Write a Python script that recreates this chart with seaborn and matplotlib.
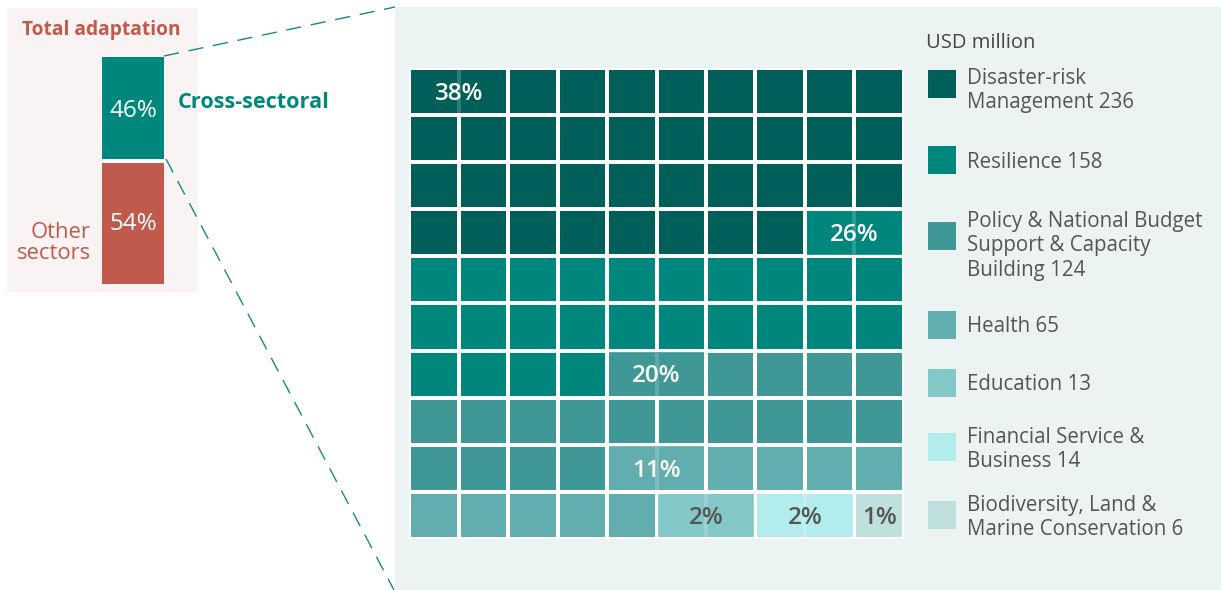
import numpy as np
import matplotlib
matplotlib.use("Agg")
import matplotlib.pyplot as plt
from matplotlib.colors import ListedColormap
from matplotlib.patches import Rectangle
from matplotlib.lines import Line2D
import seaborn as sns

# ---------------- data ----------------
categories = ["Disaster-risk\nManagement", "Resilience",
              "Policy & National Budget\nSupport & Capacity\nBuilding",
              "Health", "Education", "Financial Service &\nBusiness",
              "Biodiversity, Land &\nMarine Conservation"]
values_usd_m = [236, 158, 124, 65, 13, 14, 6]
colors = ["#005f59", "#00877d", "#3f9796", "#62aeaf", "#83c8c7", "#b3ecec", "#bfe0dd"]
label_colors = ["white", "white", "white", "white", "#555555", "#555555", "#555555"]

split_labels = ["Cross-sectoral", "Other\nsectors"]
split_shares = [46, 54]
split_colors = ["#00877d", "#bf5a4c"]

# ---------------- style ----------------
sns.set_theme(style="white")
plt.rcParams["font.family"] = ["Open Sans", "DejaVu Sans"]

W, H = 1221, 590
fig = plt.figure(figsize=(W / 100, H / 100), dpi=100)
fig.patch.set_facecolor("white")

# background / annotation layer in pixel coordinates
bg = fig.add_axes([0, 0, 1, 1], zorder=0)
bg.set_xlim(0, W)
bg.set_ylim(H, 0)
bg.axis("off")

bg.add_patch(Rectangle((7, 8), 191, 284, facecolor="#f9f4f3", edgecolor="none"))
bg.add_patch(Rectangle((395, 7), W - 395, H - 7, facecolor="#ecf4f3", edgecolor="none"))

dash = (0, (11, 7))
bg.add_line(Line2D([164, 395], [56, 7], color="#1a8a80", lw=1.0, linestyle=dash))
bg.add_line(Line2D([166, 394], [159, 590], color="#1a8a80", lw=1.0, linestyle=dash))

red = split_colors[1]
teal = split_colors[0]
bg.text(101, 30, "Total adaptation", color=red, fontsize=13.8, fontweight="bold",
        ha="center", va="center")
bg.text(178, 103, split_labels[0], color=teal, fontsize=15.6, fontweight="bold",
        ha="left", va="center")
bg.text(91, 243, split_labels[1], color=red, fontsize=15.8, ha="right", va="center",
        linespacing=1.05)

# ---------------- left stacked bar ----------------
bax = fig.add_axes([102 / W, 1 - 284 / H, 62 / W, 227 / H], zorder=2)
bax.set_facecolor("none")
bottom = 0
for share, col in zip(split_shares, split_colors):
    bax.bar(0, share, bottom=bottom, width=1.0, color=col, edgecolor="none")
    bax.text(0, bottom + share / 2 + 0.6, f"{share}%", color="white", fontsize=17.5,
             ha="center", va="center")
    bottom += share
for b in np.cumsum(split_shares)[:-1]:
    bax.axhline(b, color="white", lw=2.9)
bax.set_xlim(-0.5, 0.5)
bax.set_ylim(sum(split_shares), 0)
bax.axis("off")

# ---------------- waffle ----------------
vals = np.array(values_usd_m, dtype=float)
counts = np.round(vals / vals.sum() * 100).astype(int)
grid = np.repeat(np.arange(len(categories)), counts).reshape(10, 10)

half_gap = 1.8  # px
x0, x1, y0, y1 = 411 - half_gap, 902 + half_gap, 70 - half_gap, 537 + half_gap
wax = fig.add_axes([x0 / W, 1 - y1 / H, (x1 - x0) / W, (y1 - y0) / H], zorder=2)
sns.heatmap(grid, ax=wax, cmap=ListedColormap(colors), vmin=-0.5,
            vmax=len(colors) - 0.5, cbar=False, linewidths=half_gap * 2 * 0.72,
            linecolor="white", xticklabels=False, yticklabels=False, square=False)
wax.set_facecolor("none")

ix = half_gap / ((x1 - x0) / 10)
iy = half_gap / ((y1 - y0) / 10)
starts = np.concatenate([[0], np.cumsum(counts)[:-1]])
for k, s in enumerate(starts):
    r, c = divmod(int(s), 10)
    span = min(2, counts[k], 10 - c)
    wax.add_patch(Rectangle((c + ix, r + iy), span - 2 * ix, 1 - 2 * iy,
                            facecolor=colors[k], edgecolor="none", alpha=0.82, zorder=3))
    wax.text(c + span / 2, r + 0.55, f"{counts[k]}%", color=label_colors[k],
             fontsize=17.5, fontweight="semibold", ha="center", va="center", zorder=4)

# ---------------- legend ----------------
bg.text(926, 43, "USD million", color="#444444", fontsize=14.5, ha="left", va="center")
square_cy = [84, 160, 236, 325, 383, 447, 515]
text_y = [78, 162, 221, 327, 385, 437, 505]
line_px = 25
for k, name in enumerate(categories):
    bg.add_patch(Rectangle((928, square_cy[k] - 14), 28, 28, facecolor=colors[k],
                           edgecolor="none"))
    nlines = name.count("\n") + 1
    cy = text_y[k] + (nlines - 1) * line_px / 2
    bg.text(967, cy, f"{name} {values_usd_m[k]}", color="#555555", fontsize=14.8,
            ha="left", va="center", linespacing=1.2)

fig.savefig("out.png", dpi=100, facecolor="white")
